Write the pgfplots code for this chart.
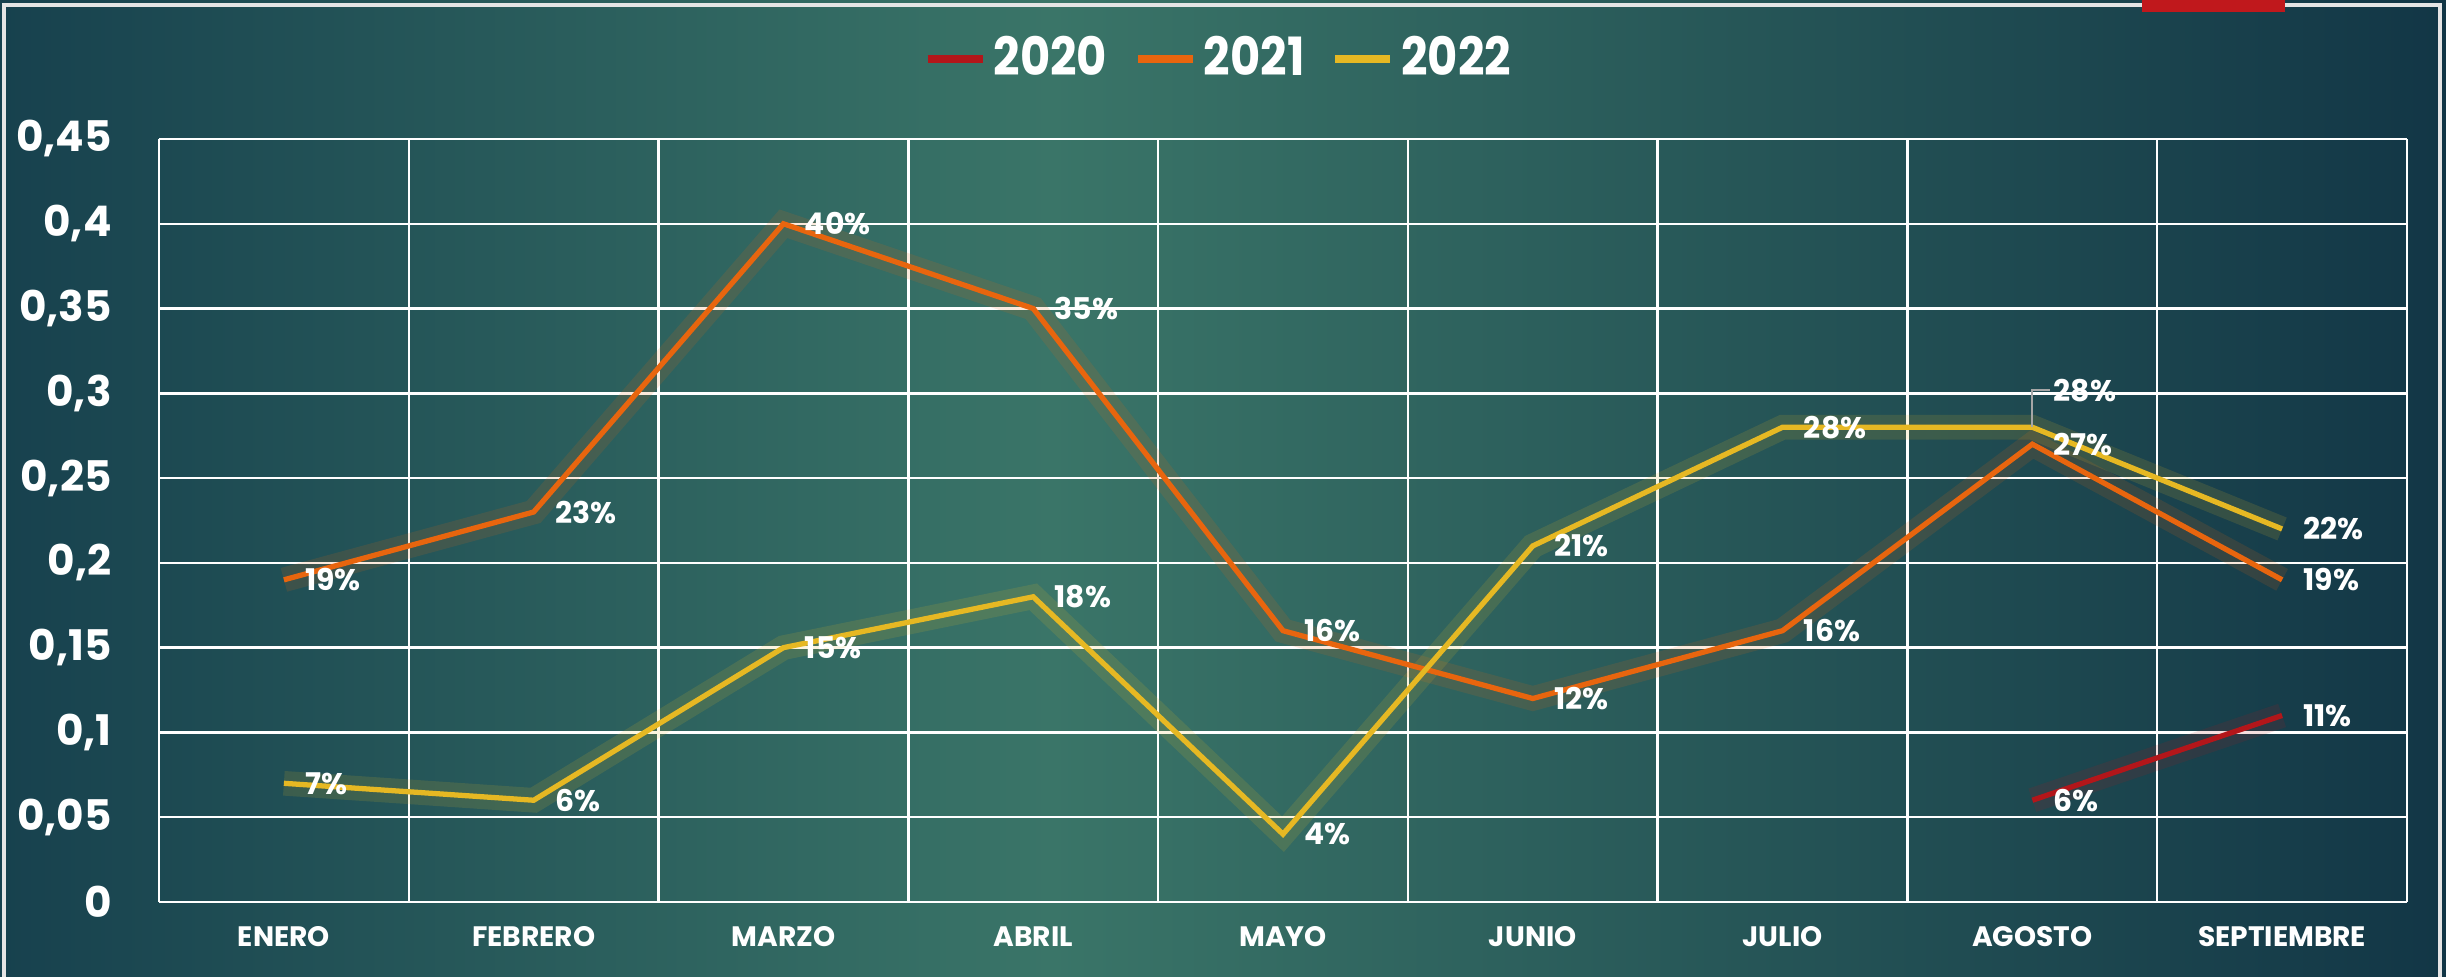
\documentclass[border=0pt]{standalone}
\usepackage{pgfplots}
\pgfplotsset{compat=1.18}
\usepackage{pgfplotstable}
\usepackage{fontspec}
\setmainfont{Poppins}
\definecolor{bgdark}{HTML}{17414E}
\definecolor{bglight}{HTML}{3A7568}
\definecolor{bgright}{HTML}{123646}
\definecolor{c20}{HTML}{B3161A}
\definecolor{c21}{HTML}{E8650E}
\definecolor{c22}{HTML}{E6B823}
\definecolor{redbox}{HTML}{C0181C}

\pgfplotstableread{
x y lab dy
7 0.06 6 0
8 0.11 11 0
}\tA
\pgfplotstableread{
x y lab dy
0 0.19 19 0
1 0.23 23 0
2 0.40 40 0
3 0.35 35 0
4 0.16 16 0
5 0.12 12 0
6 0.16 16 0
7 0.27 27 0
8 0.19 19 0
}\tB
\pgfplotstableread{
x y lab dy
0 0.07 7 0
1 0.06 6 0
2 0.15 15 0
3 0.18 18 0
4 0.04 4 0
5 0.21 21 0
6 0.28 28 0
7 0.28 28 10.5
8 0.22 22 0
}\tC

\begin{document}
\begin{tikzpicture}
\useasboundingbox (0,0) rectangle (24.46,9.77);
\shade[left color=bgdark, right color=bglight] (0,0) rectangle (10.5,9.77);
\shade[left color=bglight, right color=bgright] (10.5,0) rectangle (24.46,9.77);
\draw[white!80!gray, line width=1pt] (0.04,0) -- (0.04,9.72) -- (24.40,9.72) -- (24.40,0);
\fill[redbox] (21.42,9.65) rectangle (22.85,9.77);
\begin{axis}[
  at={(1.59cm,0.75cm)}, anchor=south west,
  scale only axis, width=22.48cm, height=7.63cm,
  xmin=-0.5, xmax=8.5, ymin=0, ymax=0.45,
  clip=false,
  axis line style={draw=none},
  tick style={draw=none},
  xtick={0,...,8},
  xticklabels={ENERO,FEBRERO,MARZO,ABRIL,MAYO,JUNIO,JULIO,AGOSTO,SEPTIEMBRE},
  minor xtick={-0.5,0.5,...,8.5},
  xminorgrids=true, xmajorgrids=false, ymajorgrids=true,
  grid style={white, line width=0.7pt},
  minor grid style={white, line width=0.7pt},
  ytick={0,0.05,0.1,0.15,0.2,0.25,0.3,0.35,0.4,0.45},
  yticklabels={0,{0,05},{0,1},{0,15},{0,2},{0,25},{0,3},{0,35},{0,4},{0,45}},
  yticklabel style={font=\fontsize{12}{14}\selectfont\bfseries, text=white, xshift=-0.35cm},
  xticklabel style={font=\fontsize{8}{10}\selectfont\bfseries, text=white, yshift=-0.12cm},
  legend style={at={(0.4724,1.105)}, anchor=center, draw=none, fill=none,
    text=white, font=\fontsize{15}{16}\selectfont\bfseries, legend columns=3,
    /tikz/every odd column/.append style={column sep=0cm},
    /tikz/every even column/.append style={column sep=0.2cm}},
  legend image code/.code={\draw[line width=2.2pt] (0cm,0cm) -- (0.55cm,0cm);},
  point meta=explicit symbolic,
  nodes near coords={\pgfplotspointmeta\%},
  visualization depends on={\thisrow{dy} \as \dy},
  nodes near coords style={anchor=west, text=white, xshift=2pt, yshift=\dy pt,
    font=\fontsize{8.5}{10}\selectfont\bfseries},
]
% glows
\addplot[c20, line width=7pt, opacity=0.14, forget plot, nodes near coords={}] table[x=x,y=y,meta=lab]{\tA};
\addplot[c21, line width=7pt, opacity=0.14, forget plot, nodes near coords={}] table[x=x,y=y,meta=lab]{\tB};
\addplot[c22, line width=7pt, opacity=0.14, forget plot, nodes near coords={}] table[x=x,y=y,meta=lab]{\tC};
% lines
\addplot[c20, line width=1.5pt] table[x=x,y=y,meta=lab]{\tA};
\addlegendentry{\scalebox{0.88}[1]{2020}}
\addplot[c21, line width=1.5pt] table[x=x,y=y,meta=lab]{\tB};
\addlegendentry{\scalebox{0.88}[1]{2021}}
\addplot[c22, line width=1.5pt] table[x=x,y=y,meta=lab]{\tC};
\addlegendentry{\scalebox{0.88}[1]{2022}}
\draw[gray!70, line width=0.6pt] (axis cs:7,0.28) -- (axis cs:7,0.302) -- ([xshift=5pt]axis cs:7,0.302);
\end{axis}
\end{tikzpicture}
\end{document}
